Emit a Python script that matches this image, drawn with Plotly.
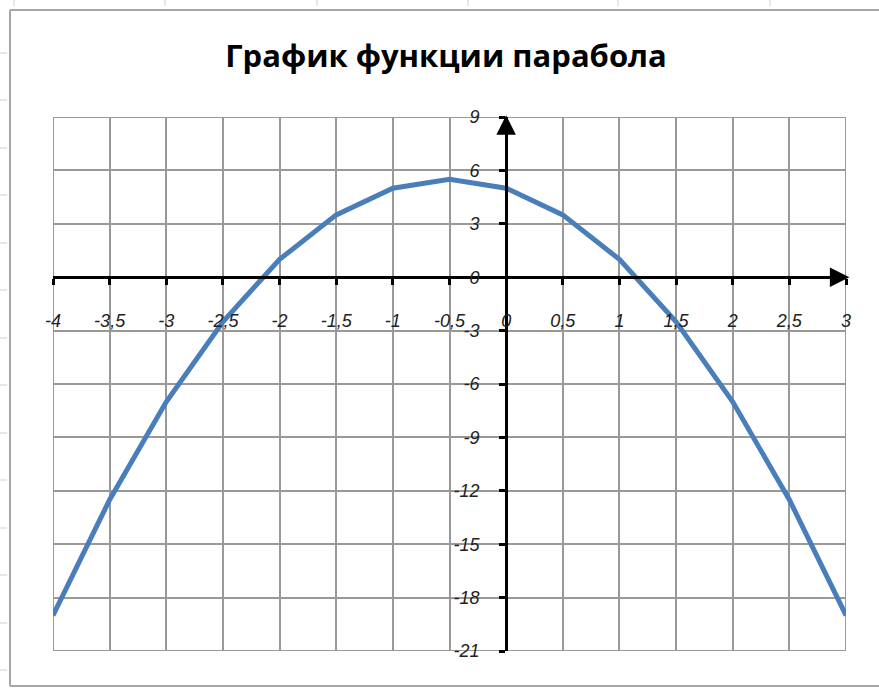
import plotly.graph_objects as go

# data
x_vals = [-4, -3.5, -3, -2.5, -2, -1.5, -1, -0.5, 0, 0.5, 1, 1.5, 2, 2.5, 3]
y_vals = [-19, -12.5, -7, -2.5, 1, 3.5, 5, 5.5, 5, 3.5, 1, -2.5, -7, -12.5, -19]

x_ticks = [-4, -3.5, -3, -2.5, -2, -1.5, -1, -0.5, 0, 0.5, 1, 1.5, 2, 2.5, 3]
x_labels = ["-4", "-3,5", "-3", "-2,5", "-2", "-1,5", "-1", "-0,5", "0", "0,5", "1", "1,5", "2", "2,5", "3"]
y_ticks = [-21, -18, -15, -12, -9, -6, -3, 0, 3, 6, 9]
y_labels = ["-21", "-18", "-15", "-12", "-9", "-6", "-3", "0", "3", "6", "9"]

title = "График функции парабола"

W, H = 879, 688
L, T = 53, 117
R, B = W - 846, H - 651


def px_x(p):
    # page pixel -> paper x
    return (p - L) / (W - L - R)


def px_y(p):
    # page pixel -> paper y
    return (H - B - p) / (H - T - B)


tick_font = dict(family="Liberation Sans, Arial", size=18, color="#222", style="italic")

fig = go.Figure()

fig.add_trace(go.Scatter(
    x=x_vals, y=y_vals,
    mode="lines",
    line=dict(color="#4a7ebb", width=5),
    hoverinfo="x+y",
))

# arrows at the ends of both axes
fig.add_annotation(x=3.03, y=0, ax=2.85, ay=0, xref="x", yref="y", axref="x", ayref="y",
                   text="", showarrow=True, arrowhead=2, arrowsize=1.3, arrowwidth=3,
                   arrowcolor="black")
fig.add_annotation(x=0, y=9.1, ax=0, ay=8, xref="x", yref="y", axref="x", ayref="y",
                   text="", showarrow=True, arrowhead=2, arrowsize=1.3, arrowwidth=3,
                   arrowcolor="black")

# chart area frame (left, top, bottom edges; right edge is off-screen)
frame = dict(color="#a6a6a6", width=2)
fig.add_shape(type="line", xref="paper", yref="paper",
              x0=px_x(10), x1=px_x(10), y0=px_y(686), y1=px_y(10), line=frame, layer="below")
fig.add_shape(type="line", xref="paper", yref="paper",
              x0=px_x(10), x1=px_x(879), y0=px_y(10), y1=px_y(10), line=frame, layer="below")
fig.add_shape(type="line", xref="paper", yref="paper",
              x0=px_x(10), x1=px_x(879), y0=px_y(686), y1=px_y(686), line=frame, layer="below")
# spreadsheet grid stubs around the chart
stub = dict(color="#c8cfe0", width=1)
for p in [14, 165, 317, 468, 618, 770]:
    fig.add_shape(type="line", xref="paper", yref="paper",
                  x0=px_x(p), x1=px_x(p), y0=px_y(0), y1=px_y(6), line=stub, layer="below")
for p in [53, 100, 148, 195, 243, 290, 338, 385, 433, 480, 528, 575, 623, 670]:
    fig.add_shape(type="line", xref="paper", yref="paper",
                  x0=px_x(0), x1=px_x(7), y0=px_y(p), y1=px_y(p), line=stub, layer="below")
# grey plot border
fig.add_shape(type="rect", xref="x", yref="y", x0=-4, x1=3, y0=-21, y1=9,
              line=dict(color="#999999", width=2), layer="below")

fig.update_layout(
    title=dict(text=f"<b>{title}</b>", x=446 / W, xanchor="center",
               y=1 - 56 / H, yanchor="middle",
               font=dict(family="Open Sans", size=31, color="black"), automargin=False),
    width=W, height=H,
    margin=dict(l=L, r=R, t=T, b=B),
    plot_bgcolor="white", paper_bgcolor="white",
    showlegend=False,
    xaxis=dict(
        range=[-4, 3], tickvals=x_ticks, ticktext=x_labels,
        showgrid=True, gridcolor="#999999", gridwidth=2,
        zeroline=False, automargin=False,
        anchor="free", position=0.7,
        showline=True, linecolor="black", linewidth=3,
        ticks="outside", ticklen=6, tickwidth=3, tickcolor="black",
        ticklabelstandoff=20,
        tickfont=tick_font,
    ),
    yaxis=dict(
        range=[-21, 9], tickvals=y_ticks, ticktext=y_labels,
        showgrid=True, gridcolor="#999999", gridwidth=2,
        zeroline=False, automargin=False,
        anchor="free", position=4 / 7,
        showline=True, linecolor="black", linewidth=3,
        ticks="outside", ticklen=6, tickwidth=3, tickcolor="black",
        ticklabelstandoff=16,
        tickfont=tick_font,
    ),
)

# drop the default page margin so the figure fills the window exactly
fig.write_html("out.html", config={"displayModeBar": False},
               post_script="document.body.style.margin='0';document.body.style.overflow='hidden';")
